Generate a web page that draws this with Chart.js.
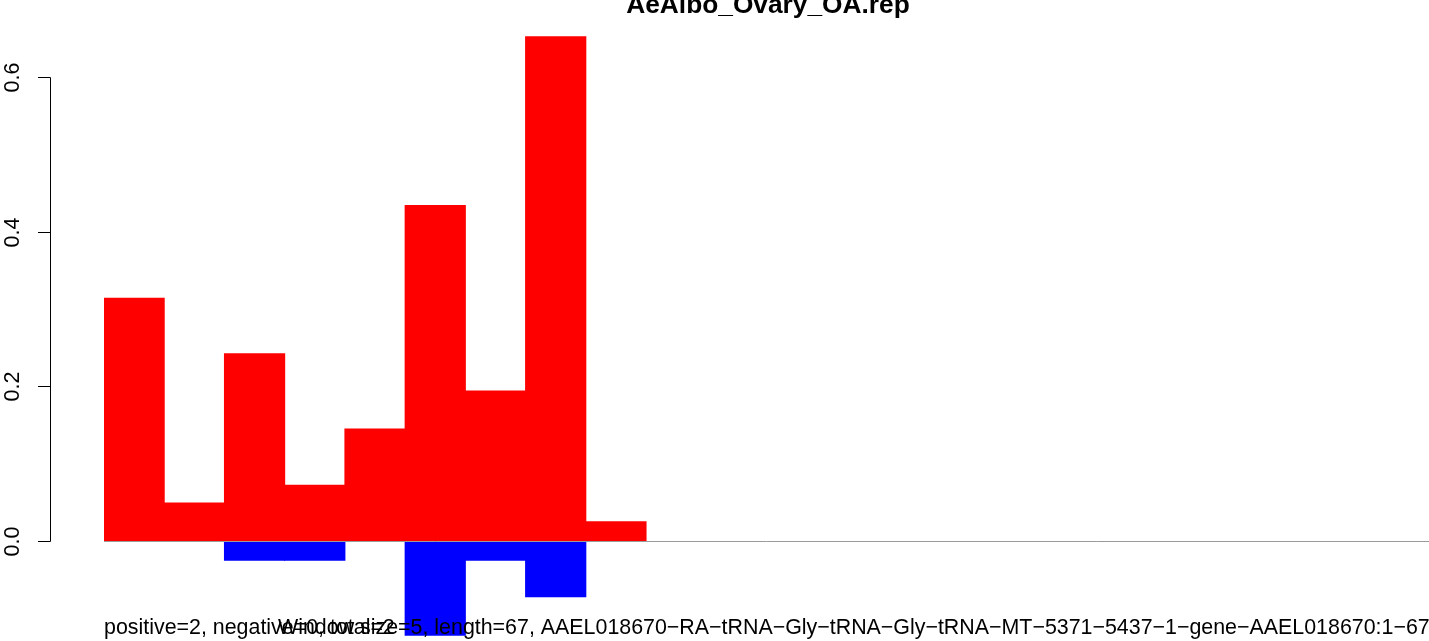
<!DOCTYPE html>
<html>
<head>
<meta charset="utf-8">
<title>AeAlbo_Ovary_OA.rep</title>
<script src="https://cdn.jsdelivr.net/npm/chart.js@4.4.1/dist/chart.umd.min.js"></script>
<style>
  html, body { margin: 0; padding: 0; background: #fff; overflow: hidden; }
  #chart { display: block; }
</style>
</head>
<body>
<canvas id="chart" width="1429" height="641"></canvas>
<script>
// windows (bins of size 5) along the 67 nt read
const windows = ["1", "2", "3", "4", "5", "6", "7", "8", "9", "10", "11",
  "12", "13", "14", "15", "16", "17", "18", "19", "20", "21", "22"]
const positiveValues = [0.314, 0.049, 0.242, 0.072, 0.145, 0.434, 0.194, 0.652, 0.025]
// null = no negative bar in that window
const negativeValues = [null, null, -0.025, -0.025, null, -0.122, -0.025, -0.072, null]
const yTicks = [0, 0.2, 0.4, 0.6]
const yTickLabels = ["0.0", "0.2", "0.4", "0.6"]

const titleText = "AeAlbo_Ovary_OA.rep"
const countsText = "positive=2, negative=0, total=2"
const infoText = "Window size=5, length=67, AAEL018670\u2212RA\u2212tRNA\u2212Gly\u2212tRNA\u2212Gly\u2212tRNA\u2212MT\u22125371\u22125437\u22121\u2212gene\u2212AAEL018670:1\u221267"

const FONT = "'Liberation Sans', Arial, Helvetica, sans-serif"

// R style left axis, zero line and the texts
const rStyle = {
  id: "rStyle",
  afterDatasetsDraw(chart) {
    const { ctx, scales, chartArea } = chart
    const y = scales.y
    const x = scales.x
    ctx.save()

    // gray zero line
    const y0 = Math.round(y.getPixelForValue(0)) + 0.5
    ctx.strokeStyle = "#9a9a9a"
    ctx.lineWidth = 1
    ctx.beginPath()
    ctx.moveTo(x.left, y0)
    ctx.lineTo(chartArea.right, y0)
    ctx.stroke()

    // y axis
    const axisX = 50.5
    ctx.strokeStyle = "#000"
    ctx.beginPath()
    ctx.moveTo(axisX, Math.round(y.getPixelForValue(yTicks[0])) + 0.5)
    ctx.lineTo(axisX, Math.round(y.getPixelForValue(yTicks[yTicks.length - 1])) + 0.5)
    ctx.stroke()

    ctx.fillStyle = "#000"
    ctx.font = "21.5px " + FONT
    ctx.textAlign = "center"
    ctx.textBaseline = "alphabetic"
    yTicks.forEach((v, i) => {
      const py = Math.round(y.getPixelForValue(v)) + 0.5
      ctx.beginPath()
      ctx.moveTo(38, py)
      ctx.lineTo(axisX, py)
      ctx.stroke()
      ctx.save()
      ctx.translate(19, py)
      ctx.rotate(-Math.PI / 2)
      ctx.fillText(yTickLabels[i], 0, 0)
      ctx.restore()
    })

    // title (cut off at the top, like the original)
    ctx.font = "bold 26.3px " + FONT
    ctx.textAlign = "center"
    ctx.fillText(titleText, 768, 13)

    // the two overlapping lines under the plot
    ctx.font = "21.4px " + FONT
    ctx.textAlign = "left"
    ctx.fillText(countsText, 104, 634)
    ctx.fillText(infoText, 278, 634)

    ctx.restore()
  },
}

new Chart(document.getElementById("chart"), {
  type: "bar",
  data: {
    labels: windows,
    datasets: [
      {
        label: "positive",
        data: positiveValues,
        backgroundColor: "#ff0000",
        borderWidth: 0,
        inflateAmount: 0.5,
      },
      {
        label: "negative",
        data: negativeValues,
        backgroundColor: "#0000ff",
        borderWidth: 0,
        inflateAmount: 0.5,
      },
    ],
  },
  options: {
    responsive: false,
    animation: false,
    layout: { padding: { left: 104, right: 0, top: 0, bottom: 0 } },
    datasets: {
      bar: { barPercentage: 1, categoryPercentage: 1 },
    },
    scales: {
      x: { display: false, stacked: true },
      y: { display: false, stacked: true, min: -0.1293, max: 0.6996 },
    },
    plugins: {
      legend: { display: false },
      tooltip: { enabled: false },
      title: { display: false },
    },
  },
  plugins: [rStyle],
})
</script>
</body>
</html>
